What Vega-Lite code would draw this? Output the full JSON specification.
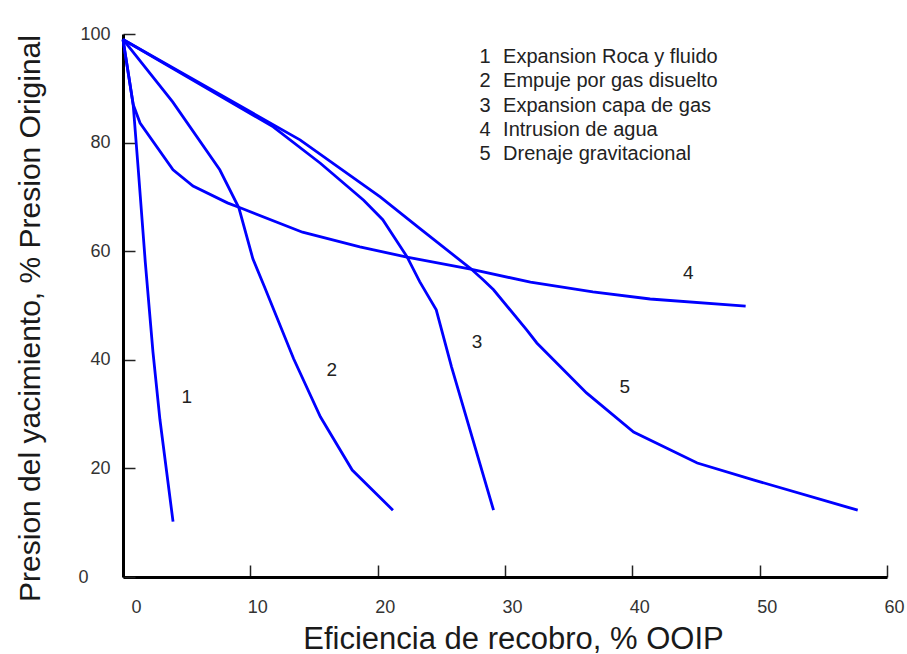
{
  "$schema": "https://vega.github.io/schema/vega-lite/v6.json",
  "width": 764,
  "height": 543,
  "autosize": {"type": "none"},
  "padding": {"left": 123, "top": 34, "right": 20, "bottom": 77},
  "background": "white",
  "config": {
    "view": {"stroke": null},
    "font": "Liberation Sans",
    "axis": {"grid": false}
  },
  "datasets": {
    "curves": [
      {"curve": "1", "x": 0, "y": 99},
      {"curve": "1", "x": 0.8, "y": 87},
      {"curve": "1", "x": 1.2, "y": 75},
      {"curve": "1", "x": 1.75, "y": 58},
      {"curve": "1", "x": 2.35, "y": 41.5},
      {"curve": "1", "x": 2.9, "y": 29},
      {"curve": "1", "x": 3.93, "y": 10.2},
      {"curve": "2", "x": 0, "y": 99},
      {"curve": "2", "x": 3.9, "y": 87.5},
      {"curve": "2", "x": 7.6, "y": 75},
      {"curve": "2", "x": 9.1, "y": 68},
      {"curve": "2", "x": 10.2, "y": 58.6},
      {"curve": "2", "x": 11.1, "y": 53.5},
      {"curve": "2", "x": 13.4, "y": 40.2},
      {"curve": "2", "x": 15.5, "y": 29.5},
      {"curve": "2", "x": 18, "y": 19.7},
      {"curve": "2", "x": 21.2, "y": 12.3},
      {"curve": "3", "x": 0, "y": 99},
      {"curve": "3", "x": 11.8, "y": 82.9},
      {"curve": "3", "x": 15.5, "y": 76.2},
      {"curve": "3", "x": 18.9, "y": 69.4},
      {"curve": "3", "x": 20.4, "y": 65.8},
      {"curve": "3", "x": 22.3, "y": 59},
      {"curve": "3", "x": 23.3, "y": 54.4},
      {"curve": "3", "x": 24.6, "y": 49.2},
      {"curve": "3", "x": 25.8, "y": 38.7},
      {"curve": "3", "x": 29.1, "y": 12.3},
      {"curve": "4", "x": 0, "y": 99},
      {"curve": "4", "x": 0.8, "y": 87},
      {"curve": "4", "x": 1.34, "y": 83.6},
      {"curve": "4", "x": 3.93, "y": 75},
      {"curve": "4", "x": 5.5, "y": 72},
      {"curve": "4", "x": 8.2, "y": 68.9},
      {"curve": "4", "x": 9.2, "y": 68},
      {"curve": "4", "x": 14.1, "y": 63.5},
      {"curve": "4", "x": 18.6, "y": 60.8},
      {"curve": "4", "x": 22.3, "y": 58.9},
      {"curve": "4", "x": 27.3, "y": 56.7},
      {"curve": "4", "x": 32, "y": 54.3},
      {"curve": "4", "x": 36.9, "y": 52.5},
      {"curve": "4", "x": 41.4, "y": 51.2},
      {"curve": "4", "x": 48.9, "y": 49.9},
      {"curve": "5", "x": 0, "y": 99},
      {"curve": "5", "x": 13.9, "y": 80.5},
      {"curve": "5", "x": 20.2, "y": 70},
      {"curve": "5", "x": 23.3, "y": 64.2},
      {"curve": "5", "x": 27.3, "y": 56.8},
      {"curve": "5", "x": 28.3, "y": 54.7},
      {"curve": "5", "x": 29.1, "y": 52.9},
      {"curve": "5", "x": 31.7, "y": 45.5},
      {"curve": "5", "x": 32.5, "y": 43.1},
      {"curve": "5", "x": 36.4, "y": 33.9},
      {"curve": "5", "x": 40.1, "y": 26.7},
      {"curve": "5", "x": 45.1, "y": 21},
      {"curve": "5", "x": 49.5, "y": 17.9},
      {"curve": "5", "x": 57.7, "y": 12.3}
    ],
    "curveLabels": [
      {"label": "1", "x": 5.0, "y": 33.2},
      {"label": "2", "x": 16.4, "y": 38.1},
      {"label": "3", "x": 27.8, "y": 43.3},
      {"label": "4", "x": 44.4, "y": 56.0},
      {"label": "5", "x": 39.4, "y": 35.0}
    ],
    "legend": [
      {"num": "1", "text": "Expansion Roca y fluido", "y": 95.76},
      {"num": "2", "text": "Empuje por gas disuelto", "y": 91.29},
      {"num": "3", "text": "Expansion capa de gas", "y": 86.81},
      {"num": "4", "text": "Intrusion de agua", "y": 82.34},
      {"num": "5", "text": "Drenaje gravitacional", "y": 77.86}
    ]
  },
  "layer": [
    {
      "data": {"name": "curves"},
      "mark": {"type": "line", "color": "#0000ff", "strokeWidth": 2.8, "clip": false},
      "encoding": {
        "x": {
          "field": "x", "type": "quantitative",
          "scale": {"domain": [0, 60], "nice": false, "zero": false},
          "axis": {
            "title": "Eficiencia de recobro, % OOIP",
            "values": [0, 10, 20, 30, 40, 50, 60],
            "domainColor": "#000000", "domainWidth": 3,
            "tickColor": "#222222", "tickWidth": 1.5, "tickSize": -12,
            "labelFontSize": 18, "labelColor": "#333333", "labelPadding": 33,
            "labelOffset": {"condition": {"test": "datum.value == 0", "value": 13}, "value": 7},
            "labelFlush": false,
            "titleFontSize": 31, "titleFontWeight": "normal", "titleColor": "#1a1a1a",
            "titleX": 390, "titleY": 71, "titleAlign": "center", "titleBaseline": "alphabetic"
          }
        },
        "y": {
          "field": "y", "type": "quantitative",
          "scale": {"domain": [0, 100], "nice": false, "zero": false},
          "axis": {
            "title": "Presion del yacimiento, % Presion Original",
            "values": [0, 20, 40, 60, 80, 100],
            "domainColor": "#000000", "domainWidth": 3,
            "tickColor": "#222222", "tickWidth": 1.5, "tickSize": -12,
            "labelFontSize": 18, "labelColor": "#333333",
            "labelPadding": {"condition": {"test": "datum.value == 0", "value": 47}, "value": 25},
            "titleFontSize": 30, "titleFontWeight": "normal", "titleColor": "#1a1a1a",
            "titleX": -93, "titleY": 284, "titleAngle": -90, "titleAlign": "center", "titleBaseline": "middle"
          }
        },
        "detail": {"field": "curve"}
      }
    },
    {
      "data": {"name": "curveLabels"},
      "mark": {"type": "text", "fontSize": 19, "color": "#222222", "align": "center", "baseline": "middle"},
      "encoding": {
        "x": {"field": "x", "type": "quantitative"},
        "y": {"field": "y", "type": "quantitative"},
        "text": {"field": "label"}
      }
    },
    {
      "data": {"name": "legend"},
      "mark": {"type": "text", "fontSize": 20, "color": "#222222", "align": "center", "baseline": "middle"},
      "encoding": {
        "x": {"datum": 28.44},
        "y": {"field": "y", "type": "quantitative"},
        "text": {"field": "num"}
      }
    },
    {
      "data": {"name": "legend"},
      "mark": {"type": "text", "fontSize": 20, "color": "#222222", "align": "left", "baseline": "middle"},
      "encoding": {
        "x": {"datum": 29.85},
        "y": {"field": "y", "type": "quantitative"},
        "text": {"field": "text"}
      }
    }
  ]
}
